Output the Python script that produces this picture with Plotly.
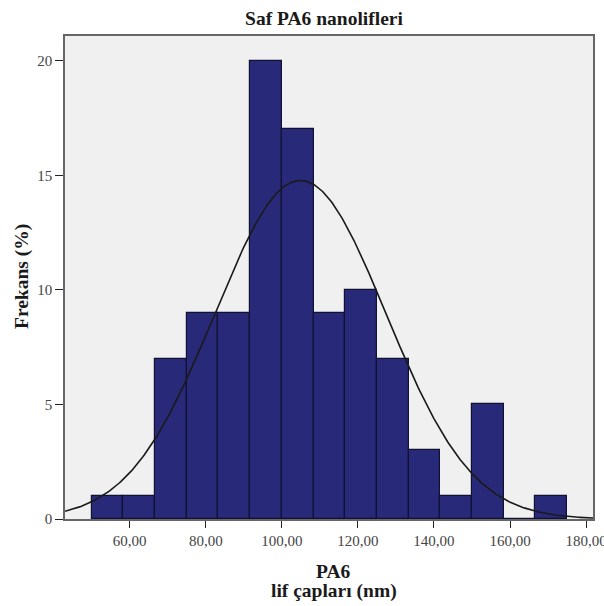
import numpy as np
import plotly.graph_objects as go

# Data
bin_start = 50.0
bin_width = 125.0 / 15
counts = [1, 1, 7, 9, 9, 20, 17, 9, 10, 7, 3, 1, 5, 0, 1]
x_tick_vals = [60, 80, 100, 120, 140, 160, 180]
x_tick_text = ["60,00", "80,00", "100,00", "120,00", "140,00", "160,00", "180,00"]
y_tick_vals = [0, 5, 10, 15, 20]
y_tick_text = ["0", "5", "10", "15", "20"]
# normal fit parameters
fit_mean = 104.9
fit_sd = 22.5
fit_n = 100

centers = [bin_start + bin_width * (i + 0.5) for i in range(len(counts))]

xc = np.linspace(43.0, 181.8, 400)
yc = fit_n * bin_width / (fit_sd * np.sqrt(2 * np.pi)) * np.exp(-0.5 * ((xc - fit_mean) / fit_sd) ** 2)

fig = go.Figure()
fig.add_trace(go.Bar(
    x=centers, y=counts, width=bin_width,
    marker=dict(color="#29297a", line=dict(color="#111133", width=1.2)),
    hoverinfo="skip",
))
fig.add_trace(go.Scatter(
    x=xc, y=yc, mode="lines",
    line=dict(color="#1a1a1a", width=1.6),
    hoverinfo="skip",
))

serif = "Liberation Serif, Times New Roman, serif"
tickfont = dict(family=serif, size=15, color="#444444")
titlefont = dict(family=serif, size=19.5, color="#1a1a1a")

fig.update_layout(
    width=604, height=606,
    margin=dict(l=65, r=11, t=36, b=87),
    paper_bgcolor="white",
    plot_bgcolor="#f0f0f0",
    showlegend=False,
    bargap=0,
    title=dict(text="<b>Saf PA6 nanolifleri</b>", x=324 / 604, xanchor="center",
               y=1 - 18 / 606, yanchor="middle", font=titlefont),
    xaxis=dict(
        range=[43.0, 181.8], tickmode="array", tickvals=x_tick_vals, ticktext=x_tick_text,
        ticks="outside", ticklen=7, tickcolor="#222222", tickwidth=1,
        showline=True, linecolor="#666666", linewidth=1.5, mirror=True,
        showgrid=False, zeroline=False, tickfont=tickfont,
        ticklabeloverflow="allow", automargin=False,
    ),
    yaxis=dict(
        range=[0, 21.08], tickmode="array", tickvals=y_tick_vals, ticktext=y_tick_text,
        ticks="outside", ticklen=8, tickcolor="#222222", tickwidth=1,
        showline=True, linecolor="#666666", linewidth=1.5, mirror=True,
        showgrid=False, zeroline=False, tickfont=tickfont,
        ticklabeloverflow="allow", automargin=False,
    ),
)

plot_w = 604 - 65 - 11
plot_h = 606 - 36 - 87
def px_to_paper(px, py):
    return (px - 65) / plot_w, (606 - 87 - py) / plot_h

for text, px, py, angle in [("<b>Frekans (%)</b>", 22, 277, -90),
                            ("<b>PA6</b>", 333, 571, 0),
                            ("<b>lif çapları (nm)</b>", 334, 591, 0)]:
    ax, ay = px_to_paper(px, py)
    fig.add_annotation(text=text, x=ax, y=ay, xref="paper", yref="paper",
                       xanchor="center", yanchor="middle", showarrow=False,
                       textangle=angle, font=titlefont)

fig.write_html("out.html")
